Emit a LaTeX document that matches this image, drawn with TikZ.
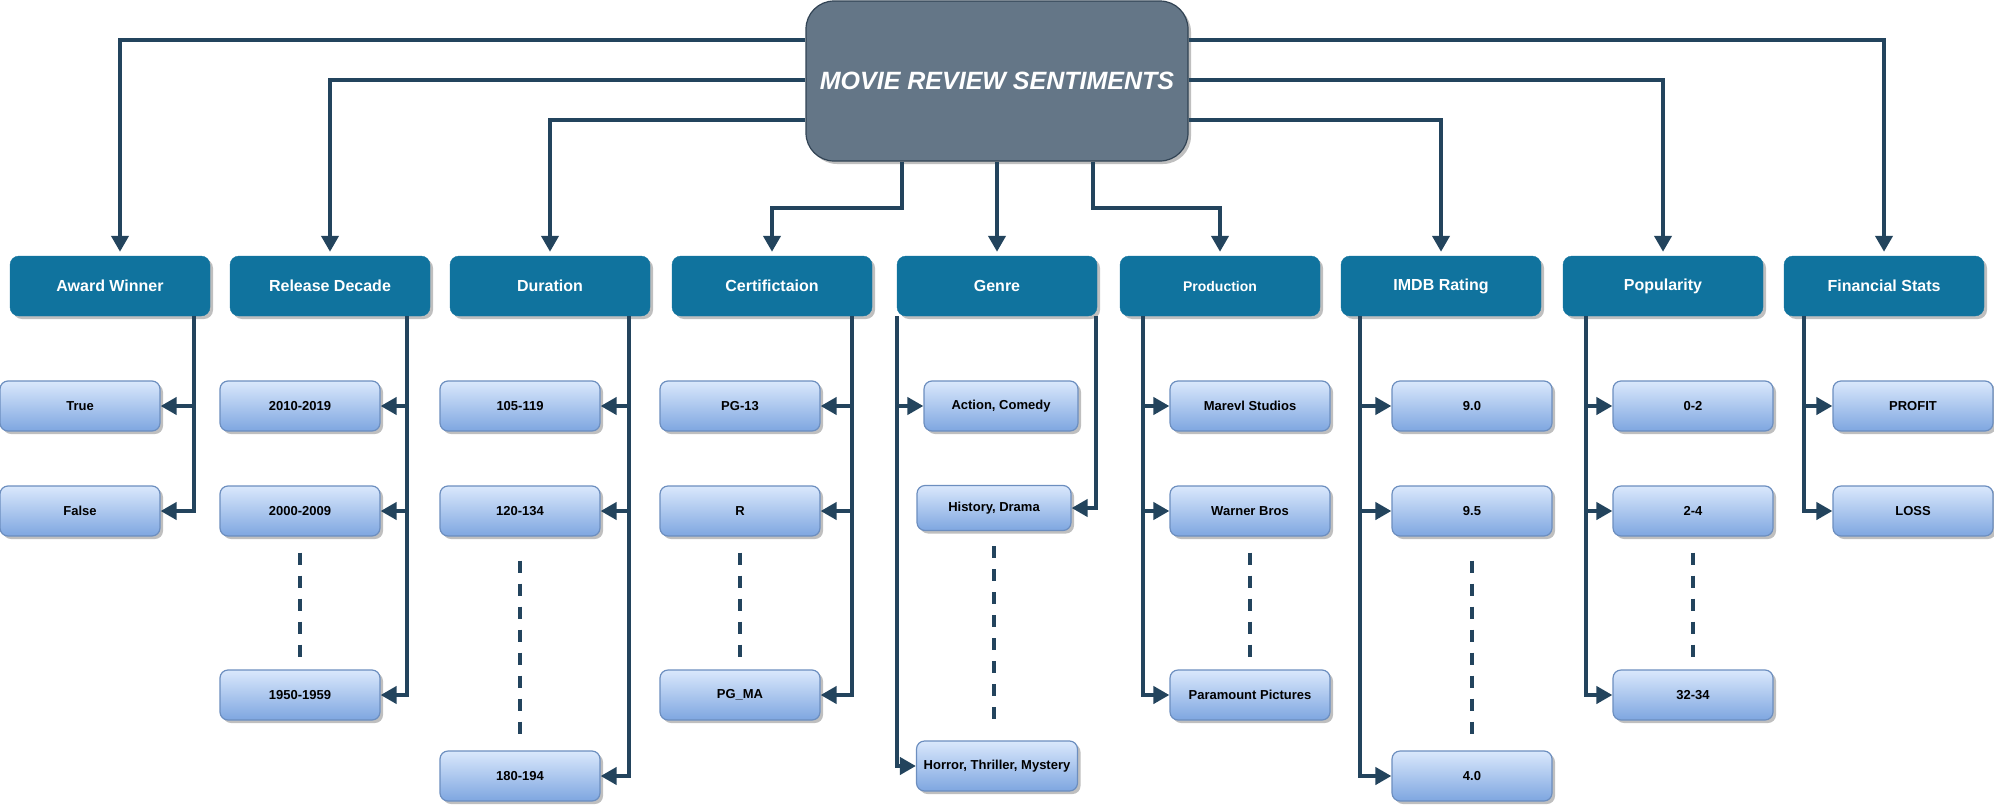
\documentclass[tikz,border=0pt]{standalone}
\usepackage{fontspec}
\setmainfont{Liberation Sans}
\usetikzlibrary{arrows.meta,shadows,positioning}
\definecolor{rootfill}{HTML}{647687}
\definecolor{rootline}{HTML}{314354}
\definecolor{catfill}{HTML}{10739E}
\definecolor{leaftop}{HTML}{DAE8FC}
\definecolor{leafbot}{HTML}{7EA6E0}
\definecolor{leafline}{HTML}{6C8EBF}
\definecolor{linkcol}{HTML}{23445D}
\tikzset{
	boxshadow/.style={drop shadow={shadow xshift=3pt,shadow yshift=-3pt,fill=black,opacity=.25}},
	rootbox/.style={rounded corners=28pt, fill=rootfill, draw=rootline, line width=1.2pt,
		text=white, font=\fontsize{25}{30}\selectfont\bfseries\itshape,
		minimum width=382pt, minimum height=160pt, inner sep=0pt, boxshadow},
	catbox/.style={rounded corners=9pt, fill=catfill, draw=catfill, text=white,
		font=\fontsize{16}{19}\selectfont\bfseries,
		minimum width=200pt, minimum height=60pt, inner sep=0pt, boxshadow},
	leafbox/.style={rounded corners=8pt, top color=leaftop, bottom color=leafbot,
		draw=leafline, line width=1.2pt, font=\fontsize{13}{16}\selectfont\bfseries,
		minimum width=160pt, minimum height=50pt, inner sep=0pt, boxshadow},
	link/.style={draw=linkcol, line width=4pt, -{Triangle[length=16pt,width=17pt]}},
	dots/.style={draw=linkcol, line width=4pt, dash pattern=on 12pt off 11pt},
}
\begin{document}
\begin{tikzpicture}[x=1pt,y=-1pt]
	\useasboundingbox (0,0) rectangle (1994,806);
	% Root
	\node[rootbox] (root) at (997,81) {MOVIE REVIEW SENTIMENTS};
	% Categories
	\node[catbox] (award) at (110,286) {Award Winner};
	\node[catbox] (release) at (330,286) {Release Decade};
	\node[catbox] (dur) at (550,286) {Duration};
	\node[catbox] (cert) at (772,286) {Certifictaion};
	\node[catbox] (genre) at (997,286) {Genre};
	\node[catbox, font=\fontsize{14}{17}\selectfont\bfseries] (prod) at (1220,286) {Production};
	\node[catbox] (imdb) at (1441,286) {IMDB Rating};
	\node[catbox] (pop) at (1663,286) {Popularity};
	\node[catbox] (fin) at (1884,286) {Financial Stats};
	% Root to categories
	\draw[link] (root.west |- 0,40) -| ([xshift=10pt,yshift=4pt]award.north);
	\draw[link] (root.west |- 0,80) -| ([yshift=4pt]release.north);
	\draw[link] (root.west |- 0,120) -| ([yshift=4pt]dur.north);
	\draw[link] (root.east |- 0,40) -| ([yshift=4pt]fin.north);
	\draw[link] (root.east |- 0,80) -| ([yshift=4pt]pop.north);
	\draw[link] (root.east |- 0,120) -| ([yshift=4pt]imdb.north);
	\draw[link] ([xshift=-95pt]root.south) -- ++(0,46) -| ([yshift=4pt]cert.north);
	\draw[link] (root.south) -- ([yshift=4pt]genre.north);
	\draw[link] ([xshift=96pt]root.south) -- ++(0,46) -| ([yshift=4pt]prod.north);
	% Award Winner
	\node[leafbox] (award1) at (80,406) {True};
	\node[leafbox] (award2) at (80,511) {False};
	\draw[link] ([xshift=84pt]award.south) |- (award1.east);
	\draw[link] ([xshift=84pt]award.south) |- (award2.east);
	% Release Decade
	\node[leafbox] (release1) at (300,406) {2010-2019};
	\node[leafbox] (release2) at (300,511) {2000-2009};
	\node[leafbox] (release3) at (300,695) {1950-1959};
	\foreach \i in {1,2,3}
		\draw[link] ([xshift=77pt]release.south) |- (release\i.east);
	\draw[dots] ([yshift=-16pt]release2.south) -- ([yshift=10pt]release3.north);
	% Duration
	\node[leafbox] (dur1) at (520,406) {105-119};
	\node[leafbox] (dur2) at (520,511) {120-134};
	\node[leafbox] (dur3) at (520,776) {180-194};
	\foreach \i in {1,2,3}
		\draw[link] ([xshift=79pt]dur.south) |- (dur\i.east);
	\draw[dots] ([yshift=-24pt]dur2.south) -- ([yshift=11pt]dur3.north);
	% Certifictaion
	\node[leafbox] (cert1) at (740,406) {PG-13};
	\node[leafbox] (cert2) at (740,511) {R};
	\node[leafbox] (cert3) at (740,695) {PG\_MA};
	\foreach \i in {1,2,3}
		\draw[link] ([xshift=80pt]cert.south) |- (cert\i.east);
	\draw[dots] ([yshift=-16pt]cert2.south) -- ([yshift=10pt]cert3.north);
	% Genre
	\node[leafbox, minimum width=154pt] (genre1) at (1001,406) {Action, Comedy};
	\node[leafbox, minimum width=154pt, minimum height=45pt] (genre2) at (994,508) {History, Drama};
	\node[leafbox, minimum width=161pt] (genre3) at (997,766) {Horror, Thriller, Mystery};
	\draw[link] ([xshift=-100pt]genre.south) |- (genre1.west);
	\draw[link] ([xshift=-100pt]genre.south) |- (genre3.west);
	\draw[link] ([xshift=99pt]genre.south) |- (genre2.east);
	\draw[dots] ([yshift=-15pt]genre2.south) -- ([yshift=15pt]genre2.south |- genre3.north);
	% Production
	\node[leafbox] (prod1) at (1250,406) {Marevl Studios};
	\node[leafbox] (prod2) at (1250,511) {Warner Bros};
	\node[leafbox] (prod3) at (1250,695) {Paramount Pictures};
	\foreach \i in {1,2,3}
		\draw[link] ([xshift=-77pt]prod.south) |- (prod\i.west);
	\draw[dots] ([yshift=-16pt]prod2.south) -- ([yshift=10pt]prod3.north);
	% IMDB Rating
	\node[leafbox] (imdb1) at (1472,406) {9.0};
	\node[leafbox] (imdb2) at (1472,511) {9.5};
	\node[leafbox] (imdb3) at (1472,776) {4.0};
	\foreach \i in {1,2,3}
		\draw[link] ([xshift=-81pt]imdb.south) |- (imdb\i.west);
	\draw[dots] ([yshift=-24pt]imdb2.south) -- ([yshift=11pt]imdb3.north);
	% Popularity
	\node[leafbox] (pop1) at (1693,406) {0-2};
	\node[leafbox] (pop2) at (1693,511) {2-4};
	\node[leafbox] (pop3) at (1693,695) {32-34};
	\foreach \i in {1,2,3}
		\draw[link] ([xshift=-77pt]pop.south) |- (pop\i.west);
	\draw[dots] ([yshift=-16pt]pop2.south) -- ([yshift=10pt]pop3.north);
	% Financial Stats
	\node[leafbox] (fin1) at (1913,406) {PROFIT};
	\node[leafbox] (fin2) at (1913,511) {LOSS};
	\draw[link] ([xshift=-80pt]fin.south) |- (fin1.west);
	\draw[link] ([xshift=-80pt]fin.south) |- (fin2.west);
\end{tikzpicture}
\end{document}
